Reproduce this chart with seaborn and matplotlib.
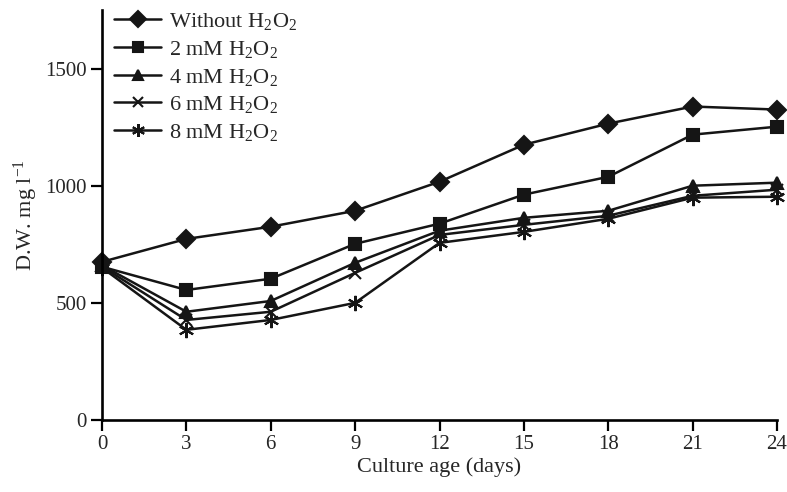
import matplotlib
matplotlib.use("Agg")
import matplotlib.pyplot as plt
import seaborn as sns
import pandas as pd
from matplotlib.lines import Line2D

days = [0, 3, 6, 9, 12, 15, 18, 21, 24]
without_h2o2 = [675, 773, 825, 893, 1017, 1175, 1265, 1338, 1325]
mm2_h2o2 = [654, 555, 603, 752, 838, 962, 1038, 1218, 1252]
mm4_h2o2 = [660, 462, 508, 671, 808, 863, 893, 1000, 1013]
mm6_h2o2 = [655, 427, 462, 628, 790, 833, 872, 957, 983]
mm8_h2o2 = [650, 385, 427, 500, 756, 803, 859, 949, 953]

labels = ["Without H$_2$O$_2$", "2 mM H$_2$O$_2$", "4 mM H$_2$O$_2$",
          "6 mM H$_2$O$_2$", "8 mM H$_2$O$_2$"]
series = [without_h2o2, mm2_h2o2, mm4_h2o2, mm6_h2o2, mm8_h2o2]

sns.set_style("ticks")
plt.rcParams["font.family"] = ["Liberation Serif", "DejaVu Serif"]
plt.rcParams["mathtext.fontset"] = "custom"
plt.rcParams["mathtext.rm"] = "Liberation Serif"
plt.rcParams["mathtext.it"] = "Liberation Serif:italic"

fig = plt.figure(figsize=(7.87, 4.92), dpi=100)
ax = fig.add_axes([102 / 787, (492 - 420) / 492, (777 - 102) / 787, (420 - 10) / 492])

markers = ["D", "s", "^", "x", (6, 2, 0)]
sizes = [9, 9, 9, 8, 11]
ink = "#151515"
for lab, vals, m, s in zip(labels, series, markers, sizes):
    df = pd.DataFrame({"day": days, "dw": vals})
    sns.lineplot(data=df, x="day", y="dw", ax=ax, color=ink, linewidth=1.8,
                 marker=m, markersize=s, markeredgecolor=ink,
                 markeredgewidth=1.5, clip_on=False)

handles = [Line2D([], [], color=ink, lw=1.8, marker=m, markersize=s * 0.85,
                  markeredgecolor=ink, markeredgewidth=1.5)
           for m, s in zip(markers, sizes)]
ax.legend(handles, labels, loc="upper left", bbox_to_anchor=(-0.005, 1.035),
          frameon=False, fontsize=16, handlelength=2.1, labelspacing=0.3,
          handletextpad=0.35, borderaxespad=0.3)

ax.set_xlim(0, 24)
ax.set_ylim(0, 1750)
ax.set_xticks(days)
ax.set_yticks([0, 500, 1000, 1500])
ax.tick_params(axis="both", direction="out", length=8, width=1.6,
               labelsize=15, color="black", pad=3)
sns.despine(ax=ax)
for sp in ["left", "bottom"]:
    ax.spines[sp].set_linewidth(1.9)
    ax.spines[sp].set_color("black")
ax.set_xlabel("Culture age (days)", fontsize=16, labelpad=2)
ax.set_ylabel("D.W. mg l$^{-1}$", fontsize=16, labelpad=4)

fig.savefig("out.png", dpi=100)
